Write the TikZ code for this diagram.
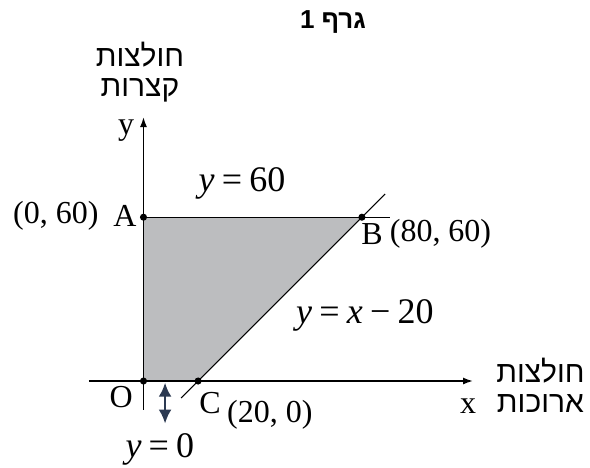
\documentclass[tikz,border=0pt]{standalone}
\usepackage{fontspec}
\setmainfont{Liberation Serif}
\newfontfamily\hebfont[Script=Hebrew]{Liberation Sans}
\usetikzlibrary{arrows.meta}
\TeXXeTstate=1
\definecolor{region}{RGB}{188,189,191}
\definecolor{updown}{RGB}{44,58,82}
\newcommand{\eqsp}{\hspace{0.2em}}

\begin{document}
\begin{tikzpicture}[x=1.365pt,y=1.365pt,every node/.style={font=\fontsize{16}{17}\selectfont,inner sep=0pt},
  eqn/.style={font=\fontsize{18}{19}\selectfont},
  heb/.style={font=\fontsize{15}{15}\selectfont\hebfont,align=center},
  axis/.style={line width=.75pt,-{Latex[length=5pt,width=3.5pt]}},
  bound/.style={line width=.6pt}]
\useasboundingbox (-52.56,-31.5) rectangle (163.55,139.56);
\coordinate (O) at (0,0);
\coordinate (A) at (0,60);
\coordinate (B) at (80,60);
\coordinate (C) at (20,0);
\coordinate (xs) at (-20,0);
\coordinate (xe) at (120.7,0);
\coordinate (ys) at (0,-10.6);
\coordinate (ye) at (0,96.7);
\coordinate (Ae) at (90.3,60);
\coordinate (Cs) at (13.8,-6.2);
\coordinate (Be) at (88.5,68.5);
\coordinate (u1) at (7.9,-0.6);
\coordinate (u2) at (7.9,-15.6);
\fill[region] (O)--(A)--(B)--(C)--cycle;
\draw[axis] (xs)--(xe);
\draw[axis] (ys)--(ye);
\draw[bound] (A)--(Ae);
\draw[bound] (Cs)--(Be);
\draw[updown,line width=1.3pt,{Latex[length=7pt,width=6.5pt]}-{Latex[length=7pt,width=6.5pt]}] (u1)--(u2);
\fill (O) circle (1.3);\node (Olab) at (-8.2,-5.9) {O};
\fill (A) circle (1.3);\node (Alab) at (-6.8,60.4) {A};
\fill (B) circle (1.3);\node (Blab) at (83.7,53.8) {B};
\fill (C) circle (1.3);\node (Clab) at (24.4,-8.1) {C};
\node (Acrd) at (-32.1,60.4) {(0, 60)};
\node (Bcrd) at (108.8,53.8) {(80, 60)};
\node (Ccrd) at (46.3,-12.5) {(20, 0)};
\node[eqn] (y60) at (36.1,72.5) {\textit{y}\eqsp=\eqsp60};
\node[eqn] (ydiag) at (81.1,24.2) {\textit{y}\eqsp=\eqsp\textit{x}\eqsp−\eqsp20};
\node[eqn] (y0) at (6.0,-24.9) {\textit{y}\eqsp=\eqsp0};
\node (xname) at (118.9,-9.2) {x};
\node (yname) at (-6.4,91.9) {y};
\node[heb] (xlab) at (145.4,-1.5) {\beginR חולצות\endR\\\beginR ארוכות\endR};
\node[heb] (ylab) at (-1.3,113.2) {\beginR חולצות\endR\\\beginR קצרות\endR};
\node[font=\fontsize{13}{14}\selectfont\hebfont\bfseries] (ttl) at (69.4,131.5) {\beginR גרף 1\endR};
\end{tikzpicture}
\end{document}
